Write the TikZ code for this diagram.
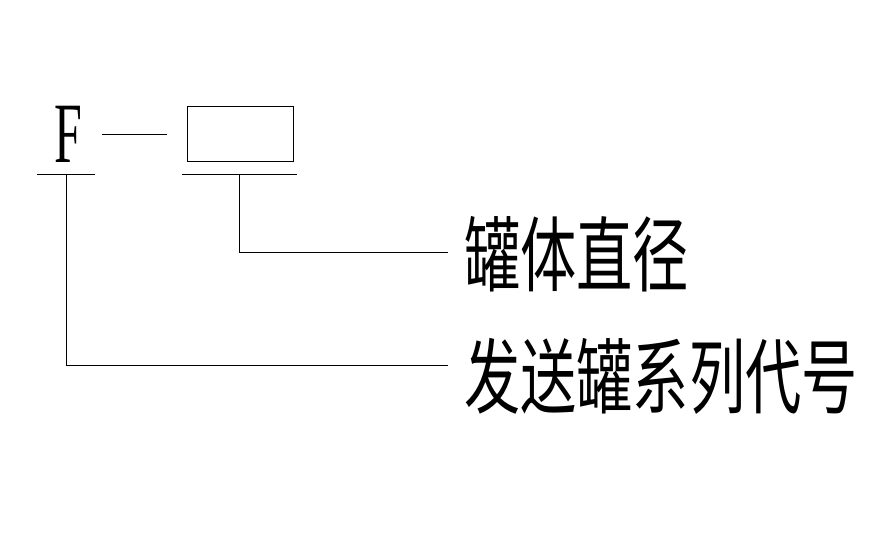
\documentclass[tikz,border=0pt]{standalone}
\usepackage{fontspec}
\setmainfont{Liberation Serif}
\newfontfamily\cjk{Noto Sans CJK SC}
\begin{document}
\begin{tikzpicture}[x=1pt,y=-1pt,line width=1pt,
  cnline/.style={draw=black},
  cjktext/.style={anchor=west,inner sep=0pt,font=\cjk\fontsize{82}{82}\selectfont,xscale=0.685}]
\useasboundingbox[fill=white] (0,0) rectangle (876,550);
\node[inner sep=0pt,font=\fontsize{86}{86}\selectfont,xscale=0.58] (F) at (68,134) {F};
\coordinate (d1) at (102,134);
\coordinate (d2) at (167,134);
\draw[cnline] (d1) -- (d2);
\node[draw,minimum width=106pt,minimum height=55pt,inner sep=0pt] (box) at (240,133.5) {};
\coordinate (u1a) at (37,174);
\coordinate (u1b) at (95,174);
\coordinate (u2a) at (182,174);
\coordinate (u2b) at (297,174);
\draw[cnline] (u1a) -- (u1b);
\draw[cnline] (u2a) -- (u2b);
\coordinate (v1) at (66,174);
\coordinate (v2) at (239,174);
\coordinate (e1) at (448,252);
\coordinate (e2) at (448,365);
\node[cjktext] (t1) at (464,254) {罐体直径};
\node[cjktext] (t2) at (464,376) {发送罐系列代号};
\draw[cnline] (v2) |- (e1);
\draw[cnline] (v1) |- (e2);
\end{tikzpicture}
\end{document}
